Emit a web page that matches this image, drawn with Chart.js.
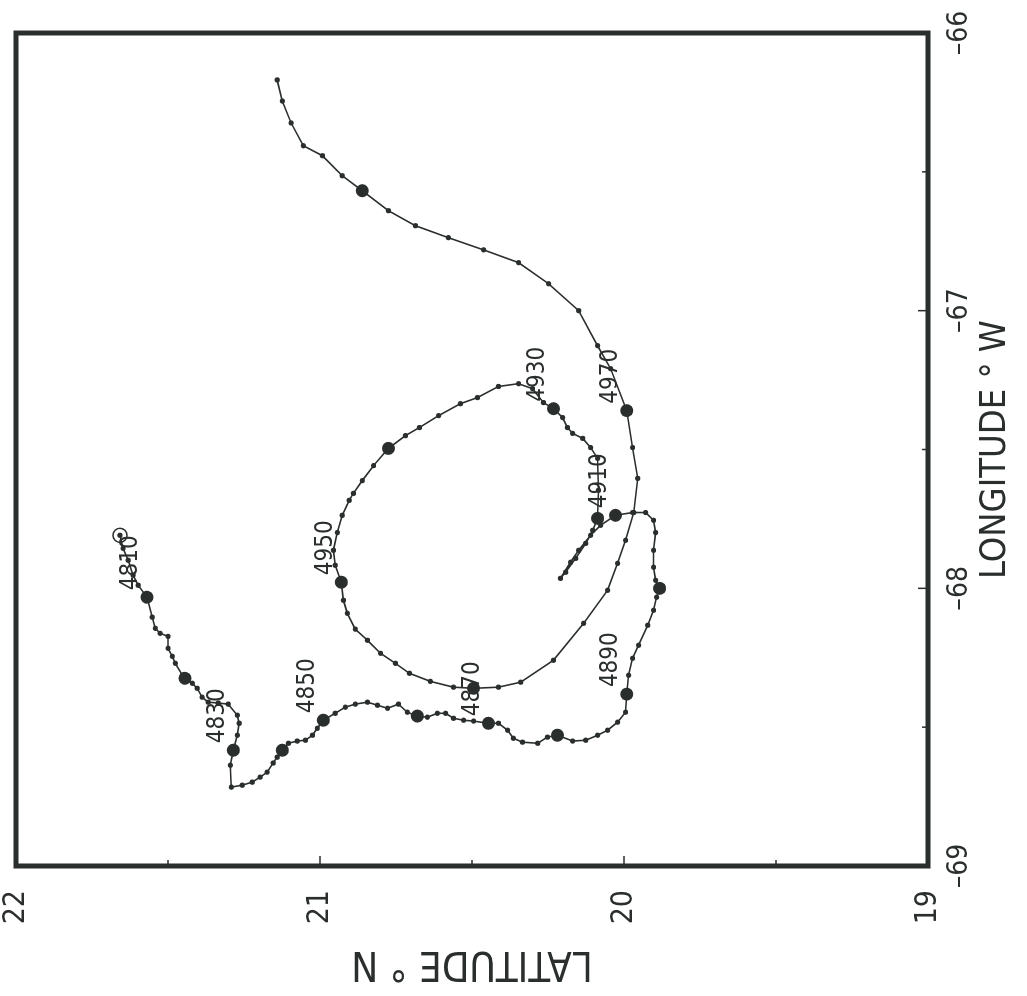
<!DOCTYPE html>
<html>
<head>
<meta charset="utf-8">
<script src="https://cdn.jsdelivr.net/npm/chart.js@4.4.1/dist/chart.umd.min.js"></script>
<style>
body{margin:0;background:#fff;overflow:hidden;width:1027px;height:996px;}
#wrap{position:absolute;left:0;top:0;width:996px;height:1027px;transform-origin:0 0;transform:translateY(996px) rotate(-90deg);}
</style>
</head>
<body>
<div id="wrap"><canvas id="track" width="996" height="1027"></canvas></div>
<script>
// drifter track, longitude / latitude of each fix
var lon = [
	-67.809,-67.856,-67.899,-67.953,-67.989,-68.032,-68.104,-68.144,-68.162,-68.173,
	-68.216,-68.245,-68.270,-68.313,-68.324,-68.342,-68.360,-68.392,-68.410,-68.413,
	-68.417,-68.457,-68.486,-68.529,-68.583,-68.637,-68.716,-68.709,-68.698,-68.680,
	-68.662,-68.629,-68.608,-68.583,-68.558,-68.550,-68.547,-68.529,-68.504,-68.475,
	-68.450,-68.428,-68.417,-68.410,-68.421,-68.432,-68.417,-68.446,-68.460,-68.464,
	-68.450,-68.450,-68.468,-68.475,-68.478,-68.486,-68.486,-68.511,-68.540,-68.554,
	-68.558,-68.536,-68.529,-68.550,-68.547,-68.529,-68.511,-68.482,-68.446,-68.381,
	-68.313,-68.252,-68.205,-68.133,-68.079,-68.032,-68.000,-67.971,-67.924,-67.863,
	-67.799,-67.755,-67.727,-67.727,-67.737,-67.773,-67.809,-67.863,-67.906,-67.964,
	-67.942,-67.892,-67.838,-67.791,-67.748,-67.647,-67.532,-67.493,-67.460,-67.442,
	-67.421,-67.385,-67.353,-67.331,-67.281,-67.263,-67.273,-67.313,-67.335,-67.378,
	-67.421,-67.450,-67.496,-67.558,-67.612,-67.658,-67.683,-67.737,-67.799,-67.863,
	-67.917,-67.978,-68.043,-68.090,-68.147,-68.187,-68.234,-68.270,-68.306,-68.335,
	-68.356,-68.360,-68.356,-68.338,-68.259,-68.126,-68.007,-67.910,-67.827,-67.727,
	-67.604,-67.493,-67.360,-67.209,-67.126,-67.000,-66.903,-66.827,-66.781,-66.737,
	-66.694,-66.640,-66.568,-66.514,-66.442,-66.406,-66.324,-66.245,-66.169
];
var lat = [
	21.658,21.648,21.631,21.615,21.598,21.569,21.552,21.542,21.526,21.500,
	21.500,21.486,21.476,21.453,21.444,21.420,21.404,21.388,21.368,21.335,
	21.302,21.272,21.266,21.272,21.285,21.295,21.292,21.256,21.223,21.197,
	21.174,21.154,21.141,21.124,21.104,21.075,21.048,21.025,21.009,20.989,
	20.950,20.917,20.884,20.844,20.811,20.778,20.742,20.713,20.680,20.647,
	20.614,20.587,20.561,20.528,20.495,20.446,20.413,20.383,20.364,20.334,
	20.284,20.252,20.219,20.169,20.126,20.087,20.054,20.021,19.995,19.991,
	19.985,19.972,19.952,19.922,19.903,19.893,19.883,19.896,19.903,19.903,
	19.896,19.903,19.929,19.972,20.028,20.077,20.110,20.149,20.176,20.209,
	20.192,20.159,20.126,20.103,20.087,20.084,20.087,20.110,20.136,20.169,
	20.186,20.202,20.232,20.265,20.301,20.347,20.413,20.482,20.538,20.610,
	20.673,20.719,20.775,20.824,20.861,20.890,20.904,20.927,20.943,20.956,
	20.950,20.930,20.923,20.910,20.884,20.844,20.801,20.752,20.706,20.637,
	20.561,20.495,20.413,20.340,20.232,20.133,20.054,20.021,19.995,19.968,
	19.955,19.972,19.991,20.044,20.087,20.149,20.248,20.347,20.462,20.578,
	20.686,20.775,20.861,20.927,20.992,21.055,21.095,21.124,21.141
];
// every 10th fix gets a big dot, every 20th a label
var bigIdx = [5,14,24,33,39,48,55,62,69,76,84,94,102,112,121,131,142,152];
var labelIdx = [5,24,39,55,69,84,102,121,142];
var labelText = ["4810","4830","4850","4870","4890","4910","4930","4950","4970"];

var lonTicks = [-69,-68,-67,-66];
var latTicks = [19,20,21,22];

var ink = "#2a2f2e";
var face = '"DejaVu Sans Condensed", "Liberation Sans Narrow", sans-serif';

var pts = lon.map(function(x, i){ return {x: x, y: lat[i]}; });
var bigPts = bigIdx.map(function(i){ return pts[i]; });

// thick box round the plot with short inward ticks
var framePlugin = {
	id: "frame",
	afterDraw: function(chart){
		var ctx = chart.ctx, a = chart.chartArea;
		var xs = chart.scales.x, ys = chart.scales.y;
		ctx.save();
		ctx.strokeStyle = ink;
		ctx.lineWidth = 1.5;
		ctx.beginPath();
		for (var i = 0; i < lonTicks.length; i++){
			var v = lonTicks[i];
			var px = xs.getPixelForValue(v);
			ctx.moveTo(px, a.bottom); ctx.lineTo(px, a.bottom - 10);
			if (i < lonTicks.length - 1){
				var pm = xs.getPixelForValue(v + 0.5);
				ctx.moveTo(pm, a.bottom); ctx.lineTo(pm, a.bottom - 6);
			}
		}
		for (var j = 0; j < latTicks.length; j++){
			var w = latTicks[j];
			var py = ys.getPixelForValue(w);
			ctx.moveTo(a.left, py); ctx.lineTo(a.left + 10, py);
			if (j < latTicks.length - 1){
				var qm = ys.getPixelForValue(w + 0.5);
				ctx.moveTo(a.left, qm); ctx.lineTo(a.left + 6, qm);
			}
		}
		ctx.stroke();
		ctx.lineWidth = 5;
		ctx.strokeRect(a.left, a.top, a.right - a.left, a.bottom - a.top);
		ctx.restore();
	}
};

// time labels next to every other big dot
var labelPlugin = {
	id: "fixLabels",
	afterDatasetsDraw: function(chart){
		var ctx = chart.ctx;
		var xs = chart.scales.x, ys = chart.scales.y;
		ctx.save();
		ctx.fillStyle = ink;
		ctx.font = "24px " + face;
		ctx.textAlign = "left";
		ctx.textBaseline = "middle";
		for (var i = 0; i < labelIdx.length; i++){
			var p = pts[labelIdx[i]];
			ctx.fillText(labelText[i], xs.getPixelForValue(p.x) + 7, ys.getPixelForValue(p.y) - 16);
		}
		ctx.restore();
	}
};

new Chart(document.getElementById("track"), {
	type: "scatter",
	data: {
		datasets: [
			{
				data: pts,
				showLine: true,
				borderColor: ink,
				borderWidth: 1.6,
				pointRadius: 2.6,
				pointBackgroundColor: ink,
				pointBorderWidth: 0,
				tension: 0
			},
			{
				data: bigPts,
				showLine: false,
				pointRadius: 6.5,
				pointBackgroundColor: ink,
				pointBorderWidth: 0
			},
			{
				data: [pts[0]],
				showLine: false,
				pointRadius: 7,
				pointBackgroundColor: "#fff",
				pointBorderColor: ink,
				pointBorderWidth: 1.5
			}
		]
	},
	options: {
		responsive: false,
		animation: false,
		devicePixelRatio: 1,
		layout: { padding: { left: 0, right: 33, top: 16, bottom: 0 } },
		plugins: { legend: { display: false }, tooltip: { enabled: false } },
		scales: {
			x: {
				type: "linear",
				position: "bottom",
				min: -69,
				max: -66,
				grid: { display: false, drawTicks: false },
				border: { display: false },
				ticks: {
					stepSize: 1,
					padding: 15,
					color: ink,
					font: { family: face, size: 28 },
					callback: function(v){ return (v < 0 ? "\u2013" : "") + Math.abs(v); }
				},
				title: {
					display: true,
					text: "LONGITUDE \u00b0 W",
					color: ink,
					font: { family: face, size: 36, lineHeight: 1.2 },
					padding: { top: 0, bottom: 10 }
				},
				afterFit: function(s){
					s.height = 99;
					s.paddingLeft = 0; s.paddingRight = 0;
				}
			},
			y: {
				type: "linear",
				position: "left",
				min: 19,
				max: 22,
				grid: { display: false, drawTicks: false },
				border: { display: false },
				ticks: {
					stepSize: 1,
					padding: 24,
					color: ink,
					font: { family: face, size: 30 }
				},
				title: {
					display: true,
					text: "LATITUDE \u00b0 N",
					color: ink,
					font: { family: face, size: 40, lineHeight: 1.2 },
					padding: { top: 10, bottom: 0 }
				},
				afterFit: function(s){
					s.width = 130;
					s.paddingTop = 0; s.paddingBottom = 0;
				}
			}
		}
	},
	plugins: [framePlugin, labelPlugin]
});
</script>
</body>
</html>
